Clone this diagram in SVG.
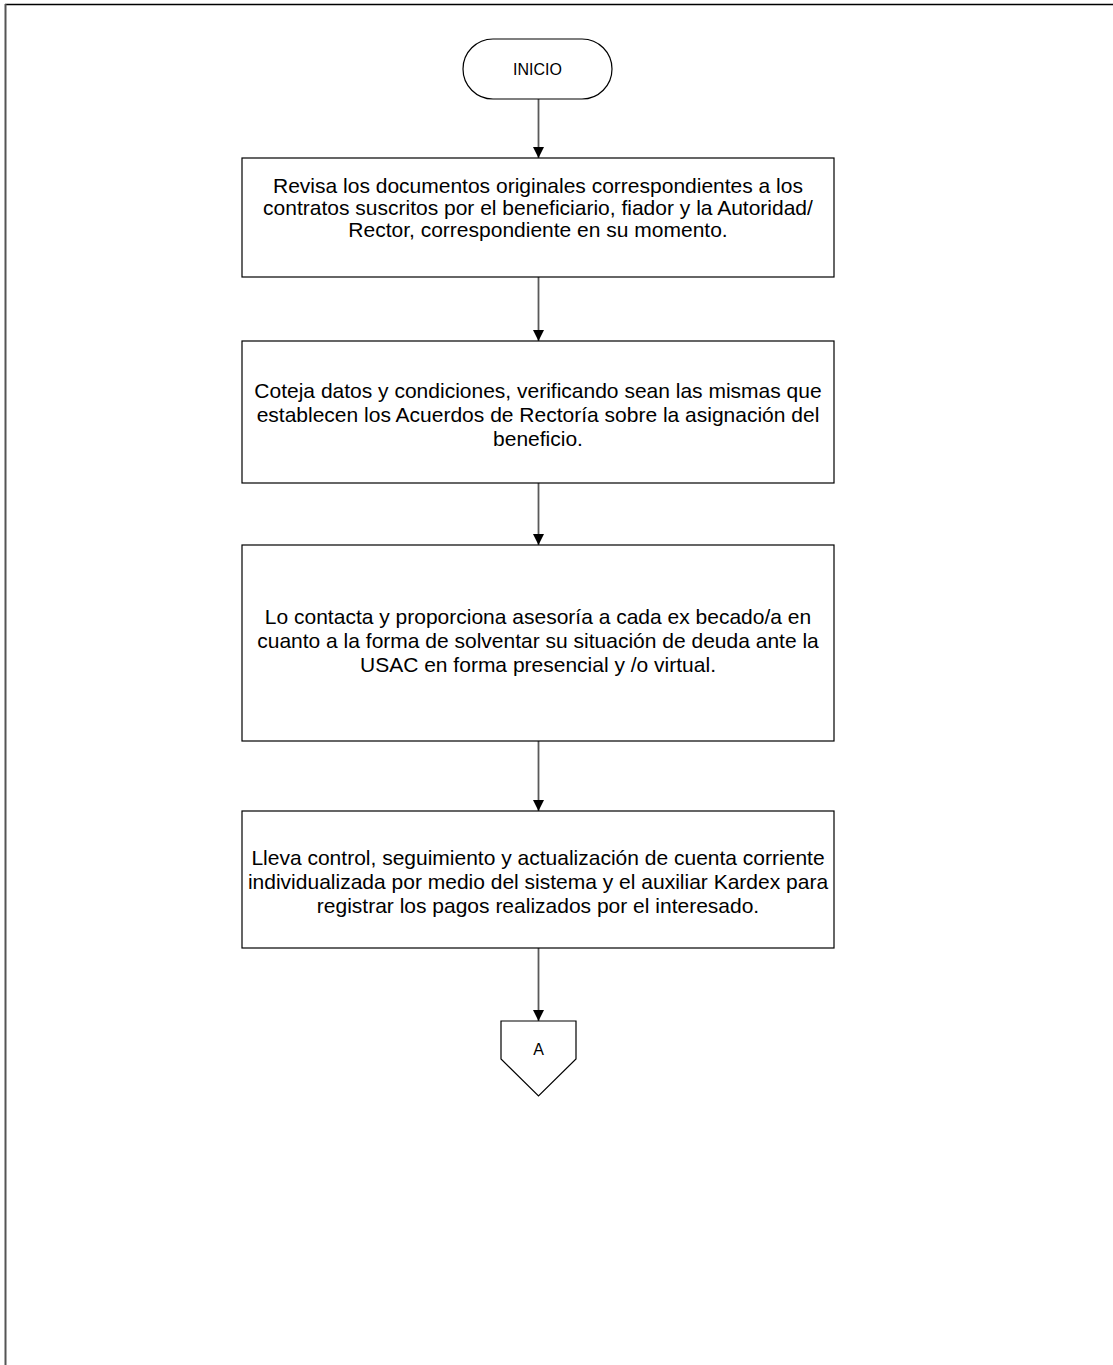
<svg xmlns="http://www.w3.org/2000/svg" width="1113" height="1365" viewBox="0 0 1113 1365">
<style>
.shape{fill:#ffffff;stroke:#000000;stroke-width:1.2}
.lbl{font-family:"Liberation Sans",Arial,sans-serif;font-size:21px;fill:#000000;text-anchor:middle}
.small{font-family:"Liberation Sans",Arial,sans-serif;font-size:16px;fill:#000000;text-anchor:middle}
.conn{stroke:#5a5a5a;stroke-width:1.8;fill:none;marker-end:url(#arr)}
</style>
<defs>
<marker id="arr" viewBox="0 0 11 11" refX="11" refY="5.5" markerWidth="11" markerHeight="11" markerUnits="userSpaceOnUse" orient="auto">
<path d="M0,0 L11,5.5 L0,11 Z" fill="#000000"/>
</marker>
</defs>
<rect width="1113" height="1365" fill="#ffffff"/>
<g id="frame">
<line x1="5" y1="4.5" x2="1113" y2="4.5" stroke="#000000" stroke-width="1.5"/>
<line x1="5.5" y1="4" x2="5.5" y2="1365" stroke="#555555" stroke-width="2"/>
</g>
<g id="connectors">
<line class="conn" x1="538.5" y1="99" x2="538.5" y2="158"/>
<line class="conn" x1="538.5" y1="277" x2="538.5" y2="341"/>
<line class="conn" x1="538.5" y1="483" x2="538.5" y2="545"/>
<line class="conn" x1="538.5" y1="741" x2="538.5" y2="811"/>
<line class="conn" x1="538.5" y1="948" x2="538.5" y2="1021"/>
</g>
<g id="inicio">
<rect class="shape" x="463" y="39" width="149" height="60" rx="30" ry="30"/>
<text class="small" x="537.5" y="75">INICIO</text>
</g>
<g id="paso1">
<rect class="shape" x="242" y="158" width="592" height="119"/>
<text class="lbl" x="538" y="193">Revisa los documentos originales correspondientes a los</text>
<text class="lbl" x="538" y="215">contratos suscritos por el beneficiario, fiador y la Autoridad/</text>
<text class="lbl" x="538" y="237">Rector, correspondiente en su momento.</text>
</g>
<g id="paso2">
<rect class="shape" x="242" y="341" width="592" height="142"/>
<text class="lbl" x="538" y="398">Coteja datos y condiciones, verificando sean las mismas que</text>
<text class="lbl" x="538" y="422">establecen los Acuerdos de Rectoría sobre la asignación del</text>
<text class="lbl" x="538" y="446">beneficio.</text>
</g>
<g id="paso3">
<rect class="shape" x="242" y="545" width="592" height="196"/>
<text class="lbl" x="538" y="624">Lo contacta y proporciona asesoría a cada ex becado/a en</text>
<text class="lbl" x="538" y="648">cuanto a la forma de solventar su situación de deuda ante la</text>
<text class="lbl" x="538" y="672">USAC en forma presencial y /o virtual.</text>
</g>
<g id="paso4">
<rect class="shape" x="242" y="811" width="592" height="137"/>
<text class="lbl" x="538" y="865">Lleva control, seguimiento y actualización de cuenta corriente</text>
<text class="lbl" x="538" y="889">individualizada por medio del sistema y el auxiliar Kardex para</text>
<text class="lbl" x="538" y="913">registrar los pagos realizados por el interesado.</text>
</g>
<g id="conector-a">
<polygon class="shape" points="501,1021 576,1021 576,1059 538.5,1096 501,1059"/>
<text class="small" x="538.5" y="1055">A</text>
</g>
</svg>
